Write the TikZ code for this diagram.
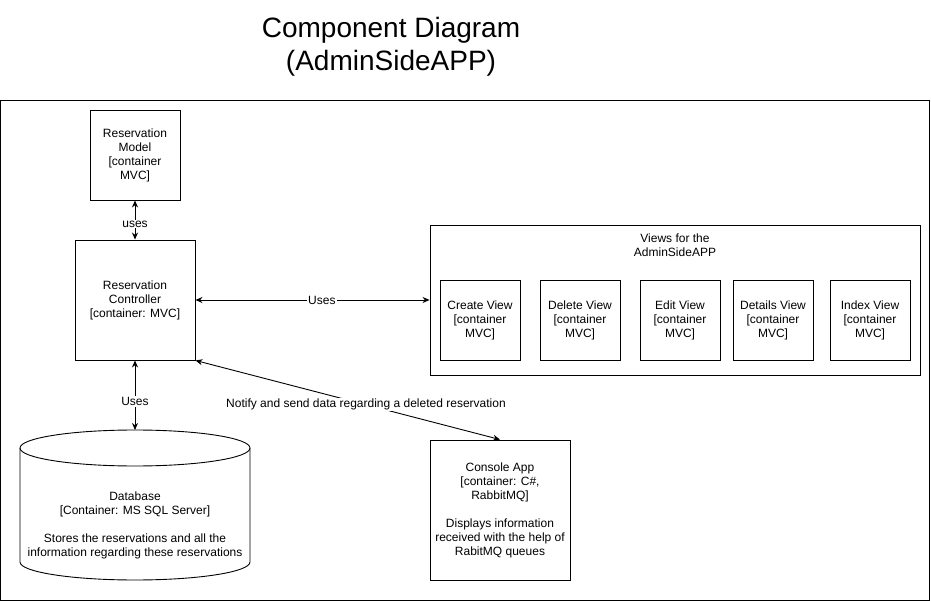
\documentclass[tikz,border=0pt]{standalone}
\usepackage{fontspec}
\setmainfont{Liberation Sans}
\usetikzlibrary{arrows.meta}
\begin{document}
\begin{tikzpicture}[x=1pt,y=-1pt,
  line width=0.9pt,
  every node/.style={font=\fontsize{12}{14}\selectfont, align=center},
  box/.style={draw, rectangle, inner sep=0pt},
  lbl/.style={fill=white, inner sep=1pt},
  link/.style={{Stealth[length=7pt,width=6pt]}-{Stealth[length=7pt,width=6pt]}}
]
\useasboundingbox (0,0) rectangle (931,601);

% title
\node[font=\fontsize{28}{33}\selectfont] (title) at (391,47) {Component Diagram\\(AdminSideAPP)};

% outer frame
\node[box, minimum width=929, minimum height=500] (frame) at (465,350) {};

% controller and model
\node[box, minimum width=90, minimum height=90] (model) at (135,155)
  {Reservation\\Model\\[0pt][container\\MVC]};
\node[box, minimum width=120, minimum height=120] (ctrl) at (135,300)
  {Reservation\\Controller\\[0pt][container: MVC]};

% views group
\node[box, minimum width=490, minimum height=150] (views) at (675,300) {};
\node (viewstitle) at (675,245) {Views for the\\AdminSideAPP};
\node[box, minimum width=80, minimum height=80] (vcreate) at (480,320) {Create View\\[0pt][container\\MVC]};
\node[box, minimum width=80, minimum height=80] (vdelete) at (580,320) {Delete View\\[0pt][container\\MVC]};
\node[box, minimum width=80, minimum height=80] (vedit) at (680,320) {Edit View\\[0pt][container\\MVC]};
\node[box, minimum width=80, minimum height=80] (vdetails) at (773,320) {Details View\\[0pt][container\\MVC]};
\node[box, minimum width=80, minimum height=80] (vindex) at (870,320) {Index View\\[0pt][container\\MVC]};

% database cylinder
\draw (135,448) ellipse [x radius=115pt, y radius=18pt];
\draw (20,448) -- (20,562) arc [start angle=180, end angle=360, x radius=115pt, y radius=18pt] -- (250,448);
\coordinate (dbtop) at (135,430);
\node (db) at (135,525) {Database\\[0pt][Container: MS SQL Server]\\[14pt]Stores the reservations and all the\\information regarding these reservations};

% console app
\node[box, minimum width=140, minimum height=140] (console) at (500,510)
  {Console App\\[0pt][container: C\#,\\RabbitMQ]\\[14pt]Displays information\\received with the help of\\RabitMQ queues};

% connectors
\draw[link] (model.south) -- node[lbl, pos=0.6] {uses} (ctrl.north);
\draw[link] (ctrl.east) -- node[lbl, pos=0.54] {Uses} (views.west);
\draw[link] (ctrl.south) -- node[lbl, pos=0.59] {Uses} (dbtop);
\draw[link] (ctrl.south east) -- node[lbl, pos=0.56] {Notify and send data regarding a deleted reservation} (console.north);
\end{tikzpicture}
\end{document}
